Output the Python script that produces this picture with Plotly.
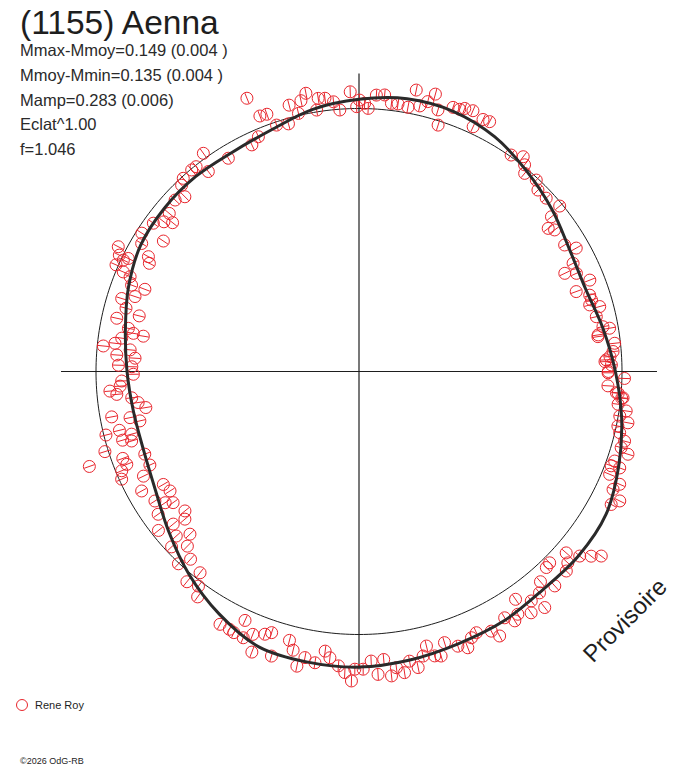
import plotly.graph_objects as go

# Polar lightcurve of (1155) Aenna
# phase in degrees (0 at top, clockwise), radius relative to the reference circle

fit_phase = [0, 10, 20, 30, 40, 50, 60, 70, 80, 90, 100, 110, 120, 130, 140, 150, 160, 170,
             180, 190, 200, 210, 220, 230, 240, 250, 260, 270, 280, 290, 300, 310, 320, 330, 340, 350]
fit_radius = [1.035, 1.053, 1.052, 1.031, 0.993, 0.958, 0.925, 0.917, 0.942, 0.975, 1.014, 1.051,
              1.085, 1.090, 1.085, 1.097, 1.102, 1.114, 1.124, 1.122, 1.114, 1.064, 1.006, 0.945,
              0.895, 0.872, 0.871, 0.882, 0.902, 0.933, 0.959, 0.966, 0.967, 0.963, 0.977, 1.012]

obs_phase = [
    337.7, 349.2, 347.9, 345.3, 340.3, 338.8, 341.5, 344.1, 346.8, 350.8, 352.9, 354.6, 355.8, 358.2,
    359.5, 351.5, 336.8, 334.7, 328.5, 324.5, 321.5, 323.0, 320.3, 317.7, 316.4, 315.1, 313.0, 309.8,
    308.6, 307.5, 305.8, 302.5, 300.5, 303.7, 298.6, 297.3, 297.4, 295.9, 296.1, 293.7, 292.9, 292.5,
    291.0, 290.8, 288.5, 287.1, 285.2, 284.2, 282.4, 280.6, 279.6, 279.3, 276.6, 275.7, 278.0, 275.4,
    273.9, 273.4, 271.5, 271.2, 295.3,
    11.5, 15.4, 3.6, 5.3, 1.2, 2.0, 6.9, 8.3, 10.5, 12.9, 14.3, 16.8, 17.8, 19.6, 21.0, 21.9, 23.6,
    25.0, 26.2, 27.6, 35.1, 37.4, 38.7, 39.9, 42.8, 44.6, 47.2, 50.5, 51.2, 52.9, 54.1, 58.4, 60.4,
    63.2, 64.5, 65.7, 68.4, 69.8, 71.7, 74.9, 73.9, 77.0, 80.2, 79.6, 81.7, 83.7, 85.5, 87.3, 88.5,
    0.1, 72.9, 81.3, 86.6, 87.7, 90.0, 94.8, 95.8,
    90.3, 91.5, 93.3, 94.7, 95.7, 97.2, 98.4, 99.7, 100.8, 101.9, 103.2, 104.7, 107.1, 106.2, 109.3,
    110.5, 110.3, 112.3, 113.4, 114.9, 116.4, 117.8, 127.3, 128.5, 129.9, 131.2, 132.5, 133.9, 135.1,
    136.3, 137.6, 139.2, 140.8, 143.1, 141.8, 144.5, 145.5, 146.8, 148.0, 149.4, 152.0, 153.0, 155.8,
    157.1, 158.5, 160.2, 162.5, 163.9, 166.2, 167.3, 165.1, 168.7, 170.1, 171.4, 172.8, 173.9, 175.1,
    176.4, 177.6, 179.2,
    269.3, 267.7, 265.5, 264.6, 266.5, 263.4, 262.0, 260.4, 259.6, 258.6, 257.3, 256.2, 254.6, 255.9,
    253.8, 253.0, 252.5, 248.9, 249.8, 245.9, 248.2, 250.6, 247.3, 245.6, 244.1, 241.2, 237.6, 240.0,
    237.7, 235.9, 234.8, 234.6, 230.6, 231.6, 231.3, 229.7, 226.1, 228.0, 226.9, 224.5, 221.9, 223.2,
    218.3, 219.3, 216.8, 215.6, 208.8, 206.7, 204.6, 205.6, 203.5, 202.0, 200.9, 199.7, 198.5, 197.1,
    194.5, 193.3, 191.9, 190.7, 188.6, 186.9, 185.8, 184.0, 182.7, 181.4, 180.8,
]
obs_radius = [
    1.123, 1.077, 1.053, 1.047, 1.039, 1.042, 0.988, 0.979, 1.008, 1.007, 1.047, 1.030, 0.997, 1.064,
    1.007, 1.050, 0.971, 0.953, 0.951, 1.019, 0.995, 0.952, 0.996, 0.993, 0.978, 0.938, 0.956, 0.939,
    0.907, 0.935, 0.964, 0.979, 0.959, 0.894, 0.912, 0.897, 1.031, 1.013, 0.977, 1.009, 0.973, 0.942,
    0.872, 0.925, 0.898, 0.944, 0.918, 0.862, 0.943, 0.892, 0.870, 0.831, 0.934, 0.977, 0.911, 0.874,
    0.923, 0.853, 0.915, 0.864, 0.991,
    1.092, 1.094, 1.053, 1.056, 1.020, 1.001, 1.027, 1.028, 1.022, 1.036, 1.059, 1.039, 0.984, 1.066,
    1.068, 1.078, 1.082, 1.027, 1.068, 1.072, 1.006, 1.028, 1.007, 0.982, 0.992, 0.969, 0.970, 0.989,
    0.939, 0.902, 0.918, 0.918, 0.950, 0.912, 0.867, 0.907, 0.944, 0.880, 0.924, 0.948, 0.913, 0.926,
    0.967, 0.943, 0.918, 0.978, 0.969, 0.941, 0.960,
    1.032, 0.925, 0.920, 0.956, 0.936, 0.948, 0.989, 1.004,
    0.947, 1.010, 0.948, 0.982, 1.009, 0.993, 1.027, 1.006, 1.041, 1.006, 1.018, 1.044, 1.070, 1.038,
    1.030, 1.024, 1.057, 1.030, 1.080, 1.065, 1.107, 1.084, 1.158, 1.128, 1.094, 1.047, 1.077, 1.094,
    1.027, 1.031, 1.104, 1.056, 1.086, 1.091, 1.142, 1.127, 1.051, 1.103, 1.118, 1.088, 1.139, 1.108,
    1.089, 1.099, 1.129, 1.110, 1.081, 1.126, 1.075, 1.109, 1.119, 1.148, 1.118, 1.158, 1.135, 1.164,
    1.099, 1.154, 1.102, 1.132,
    0.858, 0.903, 0.950, 0.925, 0.910, 0.870, 0.848, 0.822, 0.956, 0.888, 0.854, 0.938, 0.897, 0.992,
    0.936, 0.904, 1.013, 0.873, 0.957, 0.871, 0.951, 1.087, 0.978, 0.991, 0.911, 0.943, 0.919, 0.859,
    0.850, 0.890, 0.865, 0.937, 0.914, 0.973, 0.848, 0.868, 0.892, 0.935, 0.976, 0.931, 0.959, 1.003,
    0.975, 1.033, 1.019, 1.054, 1.097, 1.097, 1.041, 1.101, 1.104, 1.078, 1.142, 1.061, 1.047, 1.132,
    1.056, 1.089, 1.145, 1.107, 1.120, 1.071, 1.094, 1.122, 1.146, 1.177, 1.132,
]
obs_error = 0.021

ref_radius = 1.0
axis_length = 1.133

info_lines = ["Mmax-Mmoy=0.149 (0.004 )", "Mmoy-Mmin=0.135 (0.004 )", "Mamp=0.283 (0.006)",
              "Eclat^1.00", "f=1.046"]

RED = "#e8262d"
INK = "#1e1e1e"
W, H = 688, 768

fig = go.Figure()

# crosshair
fig.add_trace(go.Scatterpolar(r=[axis_length, 0, axis_length], theta=[0, 0, 180], mode="lines",
                              line=dict(color=INK, width=1.2), hoverinfo="skip"))
fig.add_trace(go.Scatterpolar(r=[axis_length, 0, axis_length], theta=[90, 0, 270], mode="lines",
                              line=dict(color=INK, width=1.2), hoverinfo="skip"))

# reference circle
circ_theta = list(range(0, 361))
fig.add_trace(go.Scatterpolar(r=[ref_radius] * len(circ_theta), theta=circ_theta, mode="lines",
                              line=dict(color=INK, width=1), hoverinfo="skip"))

# radial error bars
eb_r, eb_t = [], []
for p, r in zip(obs_phase, obs_radius):
    eb_r += [r - obs_error, r + obs_error, None]
    eb_t += [p, p, None]
fig.add_trace(go.Scatterpolar(r=eb_r, theta=eb_t, mode="lines", line=dict(color=RED, width=1),
                              cliponaxis=False, hoverinfo="skip"))

# observations
fig.add_trace(go.Scatterpolar(r=obs_radius, theta=obs_phase, mode="markers", name="Rene Roy",
                              cliponaxis=False,
                              marker=dict(symbol="circle-open", size=12, color=RED,
                                          line=dict(width=1, color=RED))))

# fitted curve
fig.add_trace(go.Scatterpolar(r=fit_radius + fit_radius[:1], theta=fit_phase + [360],
                              mode="lines", line=dict(color="#2a2a2a", width=3, shape="spline"),
                              hoverinfo="skip"))

cx, cy = 359, 371.5
rmax = 1.25
scale = 263
half = rmax * scale
fig.update_layout(
    width=W, height=H,
    margin=dict(l=0, r=0, t=0, b=0),
    paper_bgcolor="white",
    showlegend=False,
    polar=dict(
        domain=dict(x=[(cx - half) / W, (cx + half) / W],
                    y=[(H - cy - half) / H, (H - cy + half) / H]),
        bgcolor="white",
        radialaxis=dict(visible=False, range=[0, rmax]),
        angularaxis=dict(visible=False, rotation=90, direction="clockwise"),
    ),
    font=dict(family="Liberation Sans, Arial, sans-serif", color=INK),
)

annotations = [dict(text="(1155) Aenna", x=18 / W, y=1 - 22 / H, font=dict(size=33.5),
                    xanchor="left", yanchor="middle")]
for i, line in enumerate(info_lines):
    annotations.append(dict(text=line, x=18 / W, y=1 - (50 + 24.8 * i) / H,
                            font=dict(size=16.5, color="#2a2a2a"),
                            xanchor="left", yanchor="middle"))
annotations.append(dict(text="Provisoire", x=624 / W, y=1 - 620 / H, textangle=-45,
                        font=dict(size=24), xanchor="center", yanchor="middle"))
annotations.append(dict(text="Rene Roy", x=33 / W, y=1 - 705 / H, font=dict(size=11),
                        xanchor="left", yanchor="middle"))
annotations.append(dict(text="©2026 OdG-RB", x=18 / W, y=1 - 761 / H, font=dict(size=9),
                        xanchor="left", yanchor="middle"))
for a in annotations:
    a.update(xref="paper", yref="paper", showarrow=False)
fig.update_layout(annotations=annotations)

# legend symbol
fig.add_shape(type="circle", xref="paper", yref="paper",
              x0=(22 - 5.5) / W, x1=(22 + 5.5) / W, y0=1 - (705 + 5.5) / H, y1=1 - (705 - 5.5) / H,
              line=dict(color=RED, width=1))

# the page body has a default margin; drop it so the figure sits at the window corner
fig.write_html("out.html", config={"displayModeBar": False},
               post_script="document.body.style.margin='0px';")
